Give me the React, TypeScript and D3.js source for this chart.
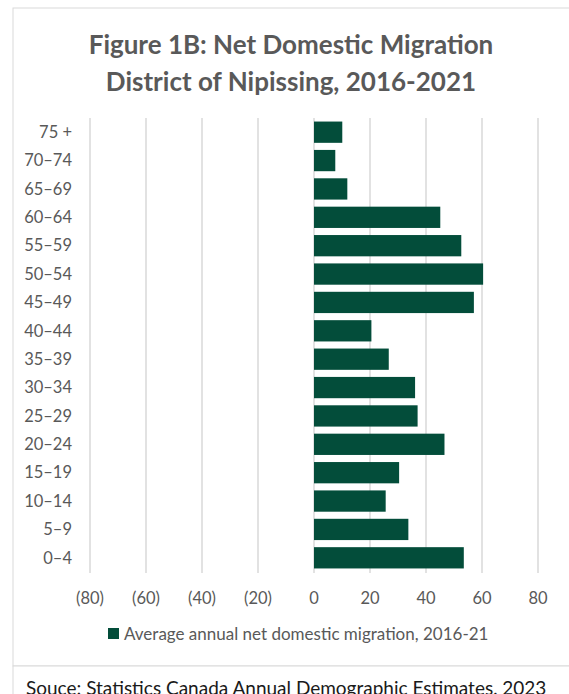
import React from "react";
import * as d3 from "d3";

const categories = ["75 +", "70–74", "65–69", "60–64", "55–59", "50–54", "45–49", "40–44", "35–39", "30–34", "25–29", "20–24", "15–19", "10–14", "5–9", "0–4"];
const values = [10.1, 7.6, 11.9, 45.1, 52.6, 60.4, 57.1, 20.5, 26.7, 36.1, 37.0, 46.6, 30.4, 25.6, 33.7, 53.5];
const xTicks = [-80, -60, -40, -20, 0, 20, 40, 60, 80];
const titleLines = ["Figure 1B: Net Domestic Migration", "District of Nipissing, 2016-2021"];
const legendLabel = "Average annual net domestic migration, 2016-21";
const sourceText = "Souce: Statistics Canada Annual Demographic Estimates, 2023";

const W = 569;
const H = 694;
const FONT = "Lato, 'Open Sans', sans-serif";
const BAR = "#034D3A";
const GRID = "#D9D9D9";
const TXT = "#595959";

export default function App() {
  const x = d3.scaleLinear().domain([-80, 80]).range([90, 538]);
  const y = d3.scaleBand<string>().domain(categories).range([118, 572]).paddingInner(0.25).paddingOuter(0.125);
  const fmt = (v: number) => (v < 0 ? `(${Math.abs(v)})` : `${v}`);
  return (
    <svg width={W} height={H} style={{ position: "absolute", left: 0, top: 0, background: "#fff" }} fontFamily={FONT}>
      <rect x={13} y={8} width={W + 20} height={658} fill="#fff" stroke={GRID} strokeWidth={1} />
      {titleLines.map((t, i) => (
        <text key={i} x={291} y={54 + i * 37} textAnchor="middle" fontSize={26} fontWeight="bold" fill={TXT}>
          {t}
        </text>
      ))}
      {xTicks.map((t) => (
        <line key={t} x1={x(t)} x2={x(t)} y1={118} y2={573} stroke={GRID} strokeWidth={1.5} />
      ))}
      {categories.map((c, i) => (
        <rect key={c} x={x(0)} y={y(c)!} width={x(values[i]) - x(0)} height={y.bandwidth()} fill={BAR} />
      ))}
      {categories.map((c) => (
        <text key={c} x={72} y={y(c)! + y.bandwidth() / 2} dy="0.35em" textAnchor="end" fontSize={16.5} fill={TXT}>
          {c}
        </text>
      ))}
      {xTicks.map((t) => (
        <text key={t} x={x(t)} y={598} dy="0.35em" textAnchor="middle" fontSize={16.5} fill={TXT}>
          {fmt(t)}
        </text>
      ))}
      <rect x={108} y={628} width={11} height={11} fill={BAR} />
      <text x={124} y={634} dy="0.35em" fontSize={17} fill={TXT}>
        {legendLabel}
      </text>
      <rect x={13} y={666} width={W + 20} height={60} fill="#fff" stroke={GRID} strokeWidth={1} />
      <text x={26} y={695} fontSize={19} fill="#1a1a1a">
        {sourceText}
      </text>
    </svg>
  );
}
